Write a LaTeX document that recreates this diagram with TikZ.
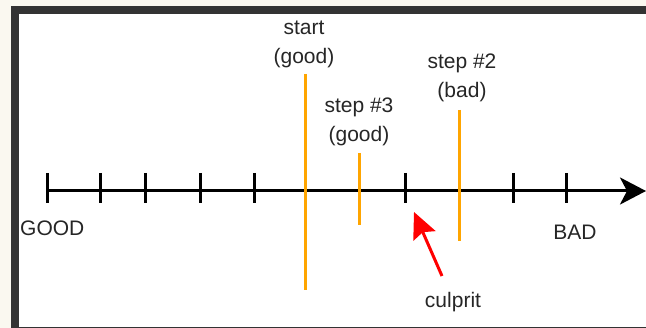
\documentclass[tikz,border=0pt]{standalone}
\usepackage{fontspec}
\setmainfont{Liberation Sans}
\usetikzlibrary{arrows.meta}
\definecolor{bgcream}{HTML}{FAF8F0}
\definecolor{framedark}{HTML}{333333}
\definecolor{markorange}{HTML}{FFA500}
\tikzset{
  lbl/.style={inner sep=0pt, anchor=base, font=\fontsize{21}{25}\selectfont, text=black!85},
  axisline/.style={line width=3pt, -{Stealth[length=26pt,width=27pt,inset=7pt]}},
  tickmark/.style={line width=3pt},
  marker/.style={line width=3pt, draw=markorange},
  pointer/.style={line width=3pt, draw=red, -{Stealth[length=26pt,width=24pt,inset=4pt]}}
}
\begin{document}
\begin{tikzpicture}[x=1pt,y=-1pt]
\useasboundingbox (0,0) rectangle (646,328);
\fill[bgcream] (0,0) rectangle (646,328);
\fill[framedark] (11,6) rectangle (646,328);
\fill[white] (19,14) rectangle (646,327);

% axis
\coordinate (axL) at (47,191);
\coordinate (axR) at (646,191);
\draw[axisline] (axL) -- (axR);
\foreach \tx in {47,100,145,200,254,305,359,405,459,513,566}
  \draw[tickmark] (\tx,173) -- (\tx,203);

% orange markers
\coordinate (stT) at (305,74);  \coordinate (stB) at (305,290);
\coordinate (s3T) at (359,153); \coordinate (s3B) at (359,225);
\coordinate (s2T) at (459,110); \coordinate (s2B) at (459,241);
\draw[marker] (stT) -- (stB);
\draw[marker] (s3T) -- (s3B);
\draw[marker] (s2T) -- (s2B);

% labels
\node[lbl] (startA) at (304,35) {start};
\node[lbl] (startB) at (304,64) {(good)};
\node[lbl] (step3A) at (359,113) {step \#3};
\node[lbl] (step3B) at (359,142) {(good)};
\node[lbl] (step2A) at (462,69) {step \#2};
\node[lbl] (step2B) at (462,98) {(bad)};
\node[lbl, anchor=base west] (good) at (20,236) {GOOD};
\node[lbl] (bad) at (575,240) {BAD};
\node[lbl] (culprit) at (453,308) {culprit};

% culprit arrow
\coordinate (cpS) at (442,276);
\coordinate (cpE) at (414,212);
\draw[pointer] (cpS) -- (cpE);
\end{tikzpicture}
\end{document}
